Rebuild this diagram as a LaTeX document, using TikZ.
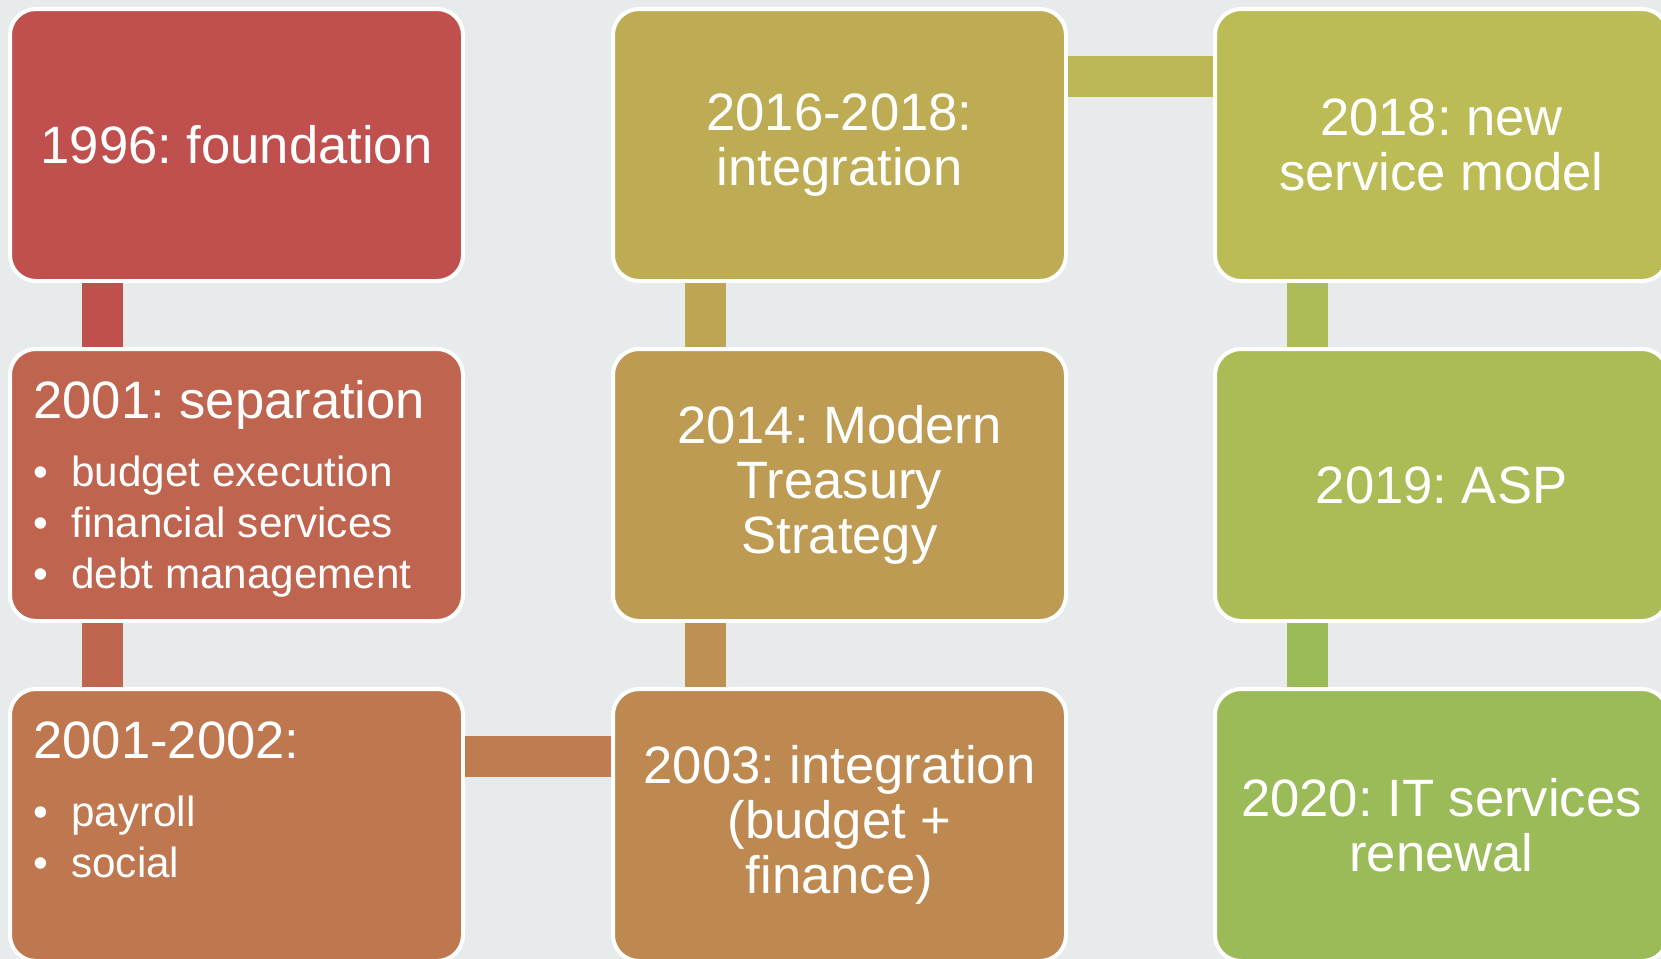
\documentclass[tikz,border=0pt]{standalone}
\usepackage{fontspec}
\setmainfont{Liberation Sans}
\frenchspacing
\definecolor{bgcol}{HTML}{E7EBEC}
\definecolor{c1996}{HTML}{C0504D}
\definecolor{c2001}{HTML}{BF644E}
\definecolor{c2002}{HTML}{BF7750}
\definecolor{c2003}{HTML}{BE8951}
\definecolor{c2014}{HTML}{BD9B53}
\definecolor{c2016}{HTML}{BDAC54}
\definecolor{c2018}{HTML}{BCBC56}
\definecolor{c2019}{HTML}{ABBC57}
\definecolor{c2020}{HTML}{9BBB59}
\definecolor{l2}{HTML}{BF664F}
\definecolor{l3}{HTML}{BE7C50}
\definecolor{l4}{HTML}{BE9152}
\definecolor{l5}{HTML}{BDA554}
\definecolor{l6}{HTML}{BCB855}
\definecolor{l7}{HTML}{AEBC57}
\newcommand{\headfont}{\fontsize{26.3}{27.5}\selectfont}
\newcommand{\itm}[1]{\makebox[19pt][l]{\textbullet}#1}
\begin{document}
\begin{tikzpicture}[x=0.5pt, y=-0.5pt,
    box/.style={draw=white, line width=2pt, rounded corners=13pt, minimum width=226.5pt, minimum height=136pt, inner sep=0pt, text=white, align=center, font=\headfont},
    listtext/.style={inner sep=0pt, text=white, anchor=base west, font=\fontsize{21.1}{25.5}\selectfont},
    link/.style={line width=20.5pt}]
  \useasboundingbox (0,0) rectangle (1661,959);
  \fill[bgcol] (0,0) rectangle (1661,959);
  \clip (0,0) rectangle (1661,959);

  % boxes, column by column
  \node[box, fill=c1996] (b1996) at (236.5,145) {1996: foundation};
  \node[box, fill=c2001] (b2001) at (236.5,485) {};
  \node[box, fill=c2002] (b2002) at (236.5,825) {};
  \node[box, fill=c2003] (b2003) at (839.5,825) {2003: integration\\(budget +\\finance)};
  \node[box, fill=c2014] (b2014) at (839.5,485) {2014: Modern\\Treasury\\Strategy};
  \node[box, fill=c2016] (b2016) at (839.5,145) {2016-2018:\\integration};
  \node[box, fill=c2018] (b2018) at (1441.5,145) {2018: new\\service model};
  \node[box, fill=c2019] (b2019) at (1441.5,485) {2019: ASP};
  \node[box, fill=c2020] (b2020) at (1441.5,825) {2020: IT services\\renewal};

  % bullet texts
  \node[listtext] (t2001) at ([shift={(25,71)}]b2001.north west) {\begin{tabular}[t]{@{}l@{}}{\headfont 2001: separation}\\[8.5pt] \itm{budget execution}\\ \itm{financial services}\\ \itm{debt management}\end{tabular}};
  \node[listtext] (t2002) at ([shift={(25,71)}]b2002.north west) {\begin{tabular}[t]{@{}l@{}}{\headfont 2001-2002:}\\[8.5pt] \itm{payroll}\\ \itm{social}\end{tabular}};

  % links
  \draw[link, c1996] ([xshift=47.25pt]b1996.south west) -- ([xshift=47.25pt]b2001.north west);
  \draw[link, l2] ([xshift=47.25pt]b2001.south west) -- ([xshift=47.25pt]b2002.north west);
  \draw[link, l3] ([yshift=-34.75pt]b2002.north east) -- ([yshift=-34.75pt]b2003.north west);
  \draw[link, l4] ([xshift=47.25pt]b2003.north west) -- ([xshift=47.25pt]b2014.south west);
  \draw[link, l5] ([xshift=47.25pt]b2014.north west) -- ([xshift=47.25pt]b2016.south west);
  \draw[link, l6] ([yshift=-34.75pt]b2016.north east) -- ([yshift=-34.75pt]b2018.north west);
  \draw[link, l7] ([xshift=47.25pt]b2018.south west) -- ([xshift=47.25pt]b2019.north west);
  \draw[link, c2020] ([xshift=47.25pt]b2019.south west) -- ([xshift=47.25pt]b2020.north west);
\end{tikzpicture}
\end{document}
